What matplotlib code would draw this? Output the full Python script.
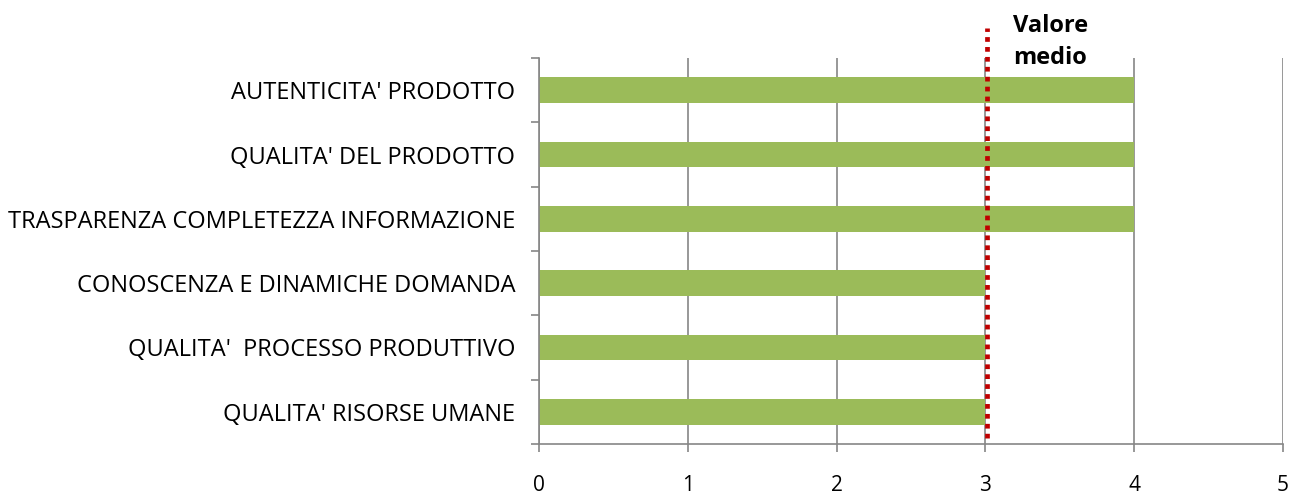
import numpy as np
import matplotlib
matplotlib.use('Agg')
from matplotlib import pyplot as plt
from matplotlib import transforms

# categories top to bottom
categorie = ["AUTENTICITA' PRODOTTO",
             "QUALITA' DEL PRODOTTO",
             "TRASPARENZA COMPLETEZZA INFORMAZIONE",
             "CONOSCENZA E DINAMICHE DOMANDA",
             "QUALITA'  PROCESSO PRODUTTIVO",
             "QUALITA' RISORSE UMANE"]
valori = [4, 4, 4, 3, 3, 3]
valore_medio = 3.01
x_ticks = [0, 1, 2, 3, 4, 5]

plt.rcParams['font.family'] = ['Open Sans', 'DejaVu Sans']

fig = plt.figure(figsize=(12.91, 4.97), dpi=100)
ax = fig.add_axes([539/1291, 1 - 444/497, (1283 - 539)/1291, (444 - 58)/497])

n = len(categorie)
pos = np.arange(n)[::-1]  # first category at top
ax.barh(pos, valori, height=0.4, color='#9BBB59', zorder=2)

ax.set_xlim(0, 5)
ax.set_ylim(-0.5, n - 0.5)
ax.set_xticks(x_ticks)
ax.set_xticklabels([str(t) for t in x_ticks], fontsize=15)
ax.xaxis.grid(True, color='#868686', linewidth=1.2, zorder=1)

# y ticks at boundaries, labels at centres
ax.set_yticks(np.arange(-0.5, n, 1.0))
ax.set_yticklabels([])
ax.set_yticks(pos, minor=True)
ax.set_yticklabels(categorie, minor=True, fontsize=17)
ax.tick_params(axis='y', which='minor', length=0, pad=17)
ax.tick_params(axis='y', which='major', length=6, color='#868686', width=1.2)
ax.tick_params(axis='x', length=6, color='#868686', width=1.2, pad=16)

for s in ['top', 'right']:
    ax.spines[s].set_visible(False)
for s in ['left', 'bottom']:
    ax.spines[s].set_color('#868686')
    ax.spines[s].set_linewidth(1.2)

# average line
ax.axvline(valore_medio, ymin=0.015, ymax=1.078, color='#C00000',
           linestyle=(0, (1, 1.1)), linewidth=3.4, dash_capstyle='butt',
           clip_on=False, zorder=3)
trans = transforms.blended_transform_factory(ax.transData, ax.transAxes)
ax.text(3.185, 1.115, 'Valore\nmedio', transform=trans, fontsize=17,
        fontweight='bold', ha='left', va='top', linespacing=1.45)

fig.savefig('out.png', dpi=100)
